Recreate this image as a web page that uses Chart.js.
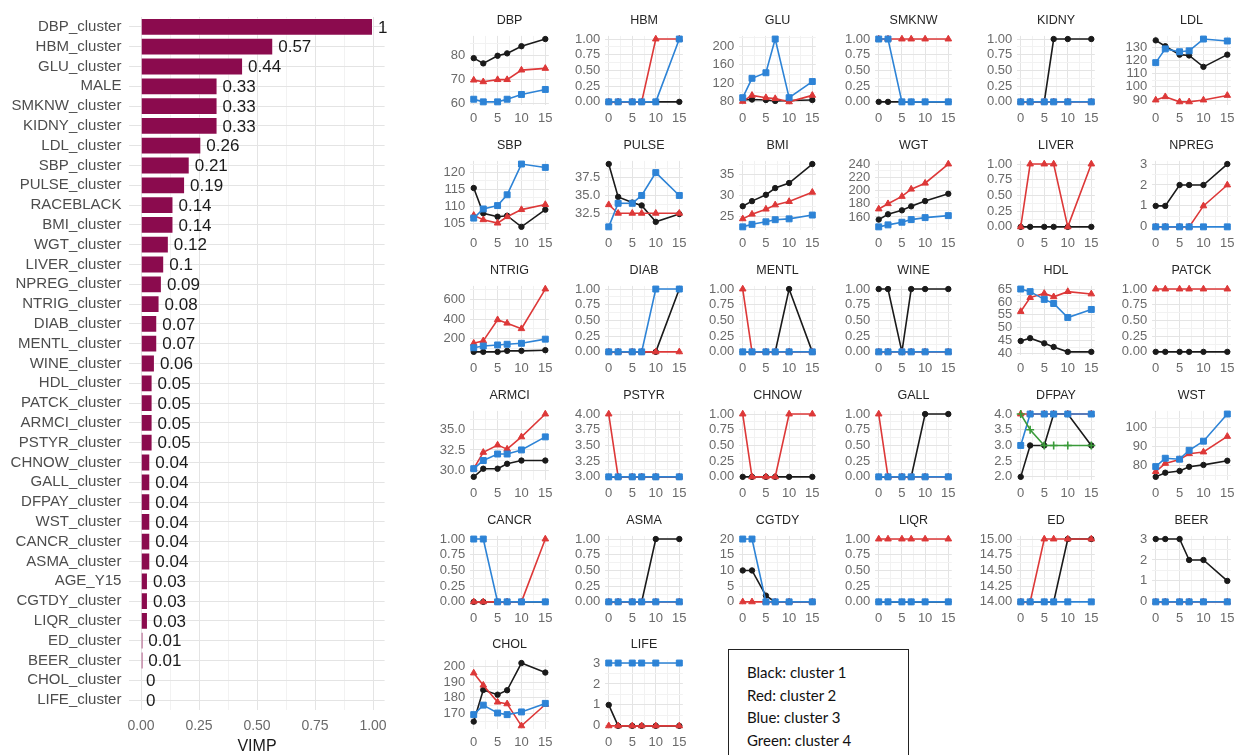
<!DOCTYPE html>
<html>
<head>
<meta charset="utf-8">
<title>Variable importance and cluster trajectories</title>
<script src="https://cdn.jsdelivr.net/npm/chart.js@4.4.1/dist/chart.umd.min.js"></script>
<style>
  html, body { margin: 0; padding: 0; background: #ffffff; }
  body { width: 1240px; height: 755px; position: relative; overflow: hidden; }
  canvas { position: absolute; }
  #key {
    position: absolute; left: 728px; top: 649px; width: 181px; height: 130px;
    box-sizing: border-box; border: 1px solid #222; padding: 11px 0 0 18px;
    font: 15px Lato, "Open Sans", sans-serif; line-height: 22.5px; color: #111;
  }
</style>
</head>
<body>
<canvas id="vimp" width="400" height="755" style="left:0;top:0"></canvas>
<div id="key">Black: cluster 1<br>Red: cluster 2<br>Blue: cluster 3<br>Green: cluster 4</div>
<script>
Chart.defaults.font.family = '"Liberation Sans", Arial, sans-serif';
Chart.defaults.animation = false;

// ---- variable importance ----
const vimpLabels = [
  'DBP_cluster', 'HBM_cluster', 'GLU_cluster', 'MALE', 'SMKNW_cluster', 'KIDNY_cluster',
  'LDL_cluster', 'SBP_cluster', 'PULSE_cluster', 'RACEBLACK', 'BMI_cluster', 'WGT_cluster',
  'LIVER_cluster', 'NPREG_cluster', 'NTRIG_cluster', 'DIAB_cluster', 'MENTL_cluster',
  'WINE_cluster', 'HDL_cluster', 'PATCK_cluster', 'ARMCI_cluster', 'PSTYR_cluster',
  'CHNOW_cluster', 'GALL_cluster', 'DFPAY_cluster', 'WST_cluster', 'CANCR_cluster',
  'ASMA_cluster', 'AGE_Y15', 'CGTDY_cluster', 'LIQR_cluster', 'ED_cluster', 'BEER_cluster',
  'CHOL_cluster', 'LIFE_cluster'
];
const vimpValues = [
  1, 0.57, 0.44, 0.33, 0.33, 0.33, 0.26, 0.21, 0.19, 0.14, 0.14, 0.12, 0.1, 0.09, 0.08,
  0.07, 0.07, 0.06, 0.05, 0.05, 0.05, 0.05, 0.04, 0.04, 0.04, 0.04, 0.04, 0.04, 0.03,
  0.03, 0.03, 0.01, 0.01, 0, 0
];

// ---- cluster trajectories (years 0..15) ----
const timepoints = [0, 2, 5, 7, 10, 15];
const panelNames = [
  'DBP', 'HBM', 'GLU', 'SMKNW', 'KIDNY', 'LDL',
  'SBP', 'PULSE', 'BMI', 'WGT', 'LIVER', 'NPREG',
  'NTRIG', 'DIAB', 'MENTL', 'WINE', 'HDL', 'PATCK',
  'ARMCI', 'PSTYR', 'CHNOW', 'GALL', 'DFPAY', 'WST',
  'CANCR', 'ASMA', 'CGTDY', 'LIQR', 'ED', 'BEER',
  'CHOL', 'LIFE'
];
const tickSteps = [
  10, 0.25, 40, 0.25, 0.25, 10,
  5, 2.5, 5, 20, 0.25, 1,
  200, 0.25, 0.25, 0.25, 5, 0.25,
  2.5, 0.25, 0.25, 0.25, 0.5, 10,
  0.25, 0.25, 5, 0.25, 0.25, 1,
  10, 1
];
// cluster 1 (black)
const cluster1 = [
  [79, 76.8, 80, 81, 84, 87],
  [0, 0, 0, 0, 0, 0],
  [84, 85, 84, 82, 83, 84],
  [0, 0, 0, 0, 0, 0],
  [0, 0, 0, 1, 1, 1],
  [135.5, 131, 124.6, 124, 115.3, 124.6],
  [115.4, 107.9, 106.9, 107.2, 103.9, 109],
  [39.4, 34.8, 34, 33.6, 31.3, 32.4],
  [27.5, 28.7, 30.2, 31.8, 33, 37.5],
  [156, 164, 170, 176, 184, 195],
  [0, 0, 0, 0, 0, 0],
  [1, 1, 2, 2, 2, 3],
  [67, 67, 67, 77, 77, 84],
  [0, 0, 0, 0, 0, 1],
  [0, 0, 0, 0, 1, 0],
  [1, 1, 0, 1, 1, 1],
  [44.9, 46, 44, 42.6, 40.7, 40.7],
  [0, 0, 0, 0, 0, 0],
  [29.2, 30.2, 30.2, 30.8, 31.2, 31.2],
  [3, 3, 3, 3, 3, 3],
  [0, 0, 0, 0, 0, 0],
  [0, 0, 0, 0, 1, 1],
  [2, 3, 3, 4, 4, 3],
  [74.2, 76.4, 77.3, 79.5, 80.5, 82.7],
  [0, 0, 0, 0, 0, 0],
  [0, 0, 0, 0, 1, 1],
  [10, 10, 2, 0, 0, 0],
  [0, 0, 0, 0, 0, 0],
  [14, 14, 14, 14, 15, 15],
  [3, 3, 3, 2, 2, 1],
  [165, 185, 182, 184.8, 202, 196],
  [1, 0, 0, 0, 0, 0]
];
// cluster 2 (red)
const cluster2 = [
  [69.8, 69.1, 70, 70, 74, 74.7],
  [0, 0, 0, 0, 1, 1],
  [81, 94, 89, 87, 80, 94],
  [1, 1, 1, 1, 1, 1],
  [0, 0, 0, 0, 0, 0],
  [90, 92.5, 88.6, 88.6, 90, 93.5],
  [107.3, 106, 105, 106.9, 109, 110.5],
  [33.7, 32.5, 32.5, 32.5, 32.5, 32.5],
  [24.5, 25.6, 26.8, 27.8, 28.6, 30.8],
  [172, 180, 191, 202, 211, 240],
  [0, 1, 1, 1, 0, 1],
  [0, 0, 0, 0, 1, 2],
  [154, 179, 393, 358, 302, 705],
  [0, 0, 0, 0, 0, 0],
  [1, 0, 0, 0, 0, 0],
  [0, 0, 0, 0, 0, 0],
  [56.3, 61.7, 63.3, 62, 64, 63.1],
  [1, 1, 1, 1, 1, 1],
  [30.2, 32.2, 33.1, 32.6, 34.1, 36.9],
  [4, 3, 3, 3, 3, 3],
  [1, 0, 0, 0, 1, 1],
  [1, 0, 0, 0, 0, 0],
  [4, 4, 4, 4, 4, 4],
  [77, 81.3, 83.3, 86.4, 87.3, 95.5],
  [0, 0, 0, 0, 0, 1],
  [0, 0, 0, 0, 0, 0],
  [0, 0, 0, 0, 0, 0],
  [1, 1, 1, 1, 1, 1],
  [14, 14, 15, 15, 15, 15],
  [0, 0, 0, 0, 0, 0],
  [195.7, 188, 177.3, 176.2, 162.3, 175.8],
  [0, 0, 0, 0, 0, 0]
];
// cluster 3 (blue); null where the cluster has no trajectory
const cluster3 = [
  [61.8, 60.7, 60.7, 61.8, 63.8, 65.9],
  [0, 0, 0, 0, 0, 1],
  [89, 131, 143, 216, 89, 124],
  [1, 1, 0, 0, 0, 0],
  [0, 0, 0, 0, 0, 0],
  [118.5, 129, 126.8, 127.5, 136.5, 135],
  [106.5, 109.2, 110.2, 113.4, 122.5, 121.5],
  [30.6, 33.9, 33.9, 35, 38.2, 35],
  [22.6, 23.2, 23.8, 24.3, 24.5, 25.4],
  [145, 148, 152, 156, 159, 162],
  null,
  [0, 0, 0, 0, 0, 0],
  [109, 126, 137, 144, 154, 196],
  [0, 0, 0, 0, 1, 1],
  [0, 0, 0, 0, 0, 0],
  [0, 0, 0, 0, 0, 0],
  [65, 64, 61, 59.4, 54, 57.1],
  null,
  [30.2, 31.2, 32, 32, 32.5, 34.1],
  [3, 3, 3, 3, 3, 3],
  null,
  [0, 0, 0, 0, 0, 0],
  [3, 4, 4, 4, 4, 4],
  [79.6, 84, 83.5, 88.2, 93, 107.3],
  [1, 1, 0, 0, 0, 0],
  [0, 0, 0, 0, 0, 0],
  [20, 20, 0, 0, 0, 0],
  [0, 0, 0, 0, 0, 0],
  [14, 14, 14, 14, 14, 14],
  [0, 0, 0, 0, 0, 0],
  [169.4, 175.4, 170.4, 169.4, 171.1, 176.5],
  [3, 3, 3, 3, 3, 3]
];
// cluster 4 (green) only appears for one variable
const cluster4Panel = 'DFPAY';
const cluster4 = [4, 3.5, 3, 3, 3, 3];

const MAJOR_GRID = '#e4e4e4';
const MINOR_GRID = '#f2f2f2';
const TICK_COLOR = '#6a6a6a';

// major ticks every `step`, minor gridlines half way between
function gridTicks(min, max, step) {
  const half = step / 2;
  const out = [];
  for (let k = Math.ceil(min / half - 1e-9); k * half <= max + 1e-9; k++) {
    out.push({ value: +(k * half).toFixed(6), minor: k % 2 !== 0 });
  }
  return out;
}
function decimalsOf(step) {
  const s = String(step);
  return s.includes('.') ? s.split('.')[1].length : 0;
}
const gridColor = c => (c.tick && c.tick.minor ? MINOR_GRID : MAJOR_GRID);

// ---- value labels at the end of each bar ----
const valueLabels = {
  id: 'valueLabels',
  afterDatasetsDraw(chart) {
    const { ctx } = chart;
    const meta = chart.getDatasetMeta(0);
    ctx.save();
    ctx.font = '17px "Liberation Sans", Arial, sans-serif';
    ctx.fillStyle = '#1a1a1a';
    ctx.textAlign = 'left';
    ctx.textBaseline = 'middle';
    meta.data.forEach((bar, i) => {
      ctx.fillText(String(vimpValues[i]), bar.x + 5, bar.y + 1);
    });
    ctx.restore();
  }
};

new Chart(document.getElementById('vimp'), {
  type: 'bar',
  data: {
    labels: vimpLabels,
    datasets: [{
      data: vimpValues,
      backgroundColor: '#8b0b4e',
      borderColor: 'rgba(255,255,255,0.55)',
      borderWidth: 1,
      barPercentage: 0.9,
      categoryPercentage: 1
    }]
  },
  options: {
    indexAxis: 'y',
    responsive: false,
    layout: { padding: { top: 13, right: 15.4, left: 0, bottom: 0 }, autoPadding: false },
    plugins: { legend: { display: false }, tooltip: { enabled: false } },
    scales: {
      x: {
        type: 'linear', min: -0.05, max: 1.05,
        afterBuildTicks: s => { s.ticks = gridTicks(-0.05, 1.05, 0.25); },
        afterFit: s => { s.height = 45; },
        ticks: {
          autoSkip: false, maxRotation: 0, padding: 8, color: TICK_COLOR, font: { size: 14 },
          callback: (v, i, t) => (t[i].minor ? '' : v.toFixed(2))
        },
        grid: { drawTicks: false, color: gridColor, lineWidth: 1 },
        border: { display: false },
        title: { display: true, text: 'VIMP', color: '#1a1a1a', font: { size: 16, lineHeight: 1 }, padding: 0 }
      },
      y: {
        type: 'category',
        afterFit: s => { s.width = 129.4; },
        ticks: { autoSkip: false, padding: 8, color: '#4d4d4d', font: { size: 15 } },
        grid: { offset: false, drawTicks: false, color: MAJOR_GRID },
        border: { display: false }
      }
    }
  },
  plugins: [valueLabels]
});

// ---- small multiples ----
const colZero = [474, 609, 743, 879, 1021, 1156];
const colFifteen = [551, 685, 818, 954, 1097, 1233];
const rowTop = [39, 164, 289, 414, 539, 663];
const ROW_SPAN = 62;
const AX_W = 50, TITLE_H = 24, XAX_H = 22, PAD_R = 4;

const seriesStyle = [
  { color: '#3a9a3a', pointStyle: 'cross', radius: 4 },     // cluster 4
  { color: '#2d83d6', pointStyle: 'rect', radius: 4.2 },    // cluster 3
  { color: '#dd3838', pointStyle: 'triangle', radius: 3.8 },// cluster 2
  { color: '#1a1a1a', pointStyle: 'circle', radius: 2.7 }   // cluster 1
];

function makeDataset(values, style, label) {
  return {
    label,
    data: timepoints.map((t, i) => ({ x: t, y: values[i] })),
    borderColor: style.color,
    backgroundColor: style.color,
    borderWidth: 1.6,
    pointStyle: style.pointStyle,
    pointRadius: style.radius,
    pointBorderWidth: style.pointStyle === 'cross' ? 1.6 : 1,
    pointBackgroundColor: style.color,
    pointBorderColor: style.color,
    tension: 0,
    clip: false
  };
}

panelNames.forEach((name, p) => {
  const col = p % 6, row = Math.floor(p / 6);
  const ppu = (colFifteen[col] - colZero[col]) / 15;
  const plotLeft = colZero[col] - 0.75 * ppu;
  const plotW = 16.5 * ppu;
  const plotTop = rowTop[row] - 0.05 * ROW_SPAN;
  const plotH = 1.1 * ROW_SPAN;

  const left = Math.round(plotLeft - AX_W);
  const axisW = plotLeft - left;
  const top = Math.round(plotTop - TITLE_H);
  const titleH = plotTop - top;
  const width = Math.ceil(axisW + plotW + PAD_R);
  const height = Math.ceil(titleH + plotH + XAX_H);

  const cv = document.createElement('canvas');
  cv.width = width; cv.height = height;
  cv.style.left = left + 'px'; cv.style.top = top + 'px';
  document.body.appendChild(cv);

  const datasets = [];
  if (name === cluster4Panel) datasets.push(makeDataset(cluster4, seriesStyle[0], 'cluster 4'));
  if (cluster3[p]) datasets.push(makeDataset(cluster3[p], seriesStyle[1], 'cluster 3'));
  datasets.push(makeDataset(cluster2[p], seriesStyle[2], 'cluster 2'));
  datasets.push(makeDataset(cluster1[p], seriesStyle[3], 'cluster 1'));

  const all = datasets.flatMap(d => d.data.map(pt => pt.y));
  const lo = Math.min(...all), hi = Math.max(...all);
  const yMin = lo - 0.05 * (hi - lo), yMax = hi + 0.05 * (hi - lo);
  const step = tickSteps[p];
  const dec = decimalsOf(step);

  new Chart(cv, {
    type: 'line',
    data: { datasets },
    options: {
      responsive: false,
      layout: { padding: { top: 0, left: 0, bottom: 0, right: width - axisW - plotW }, autoPadding: false },
      plugins: {
        legend: { display: false },
        tooltip: { enabled: false },
        title: {
          display: true, text: name, color: '#262626', fullSize: false,
          font: { size: 12.5, weight: 'normal', lineHeight: 14 / 12.5 },
          padding: { top: titleH - 22, bottom: 8 }
        }
      },
      scales: {
        x: {
          type: 'linear', min: -0.75, max: 15.75,
          afterBuildTicks: s => { s.ticks = gridTicks(-0.75, 15.75, 5); },
          afterFit: s => { s.height = XAX_H; },
          ticks: {
            autoSkip: false, maxRotation: 0, padding: 6, color: TICK_COLOR, font: { size: 13 },
            callback: (v, i, t) => (t[i].minor ? '' : String(v))
          },
          grid: { drawTicks: false, color: gridColor },
          border: { display: false }
        },
        y: {
          type: 'linear', min: yMin, max: yMax,
          afterBuildTicks: s => { s.ticks = gridTicks(yMin, yMax, step); },
          afterFit: s => { s.width = axisW; },
          ticks: {
            autoSkip: false, padding: 5, color: TICK_COLOR, font: { size: 13 },
            callback: (v, i, t) => (t[i].minor ? '' : v.toFixed(dec))
          },
          grid: { drawTicks: false, color: gridColor },
          border: { display: false }
        }
      }
    }
  });
});
</script>
</body>
</html>
